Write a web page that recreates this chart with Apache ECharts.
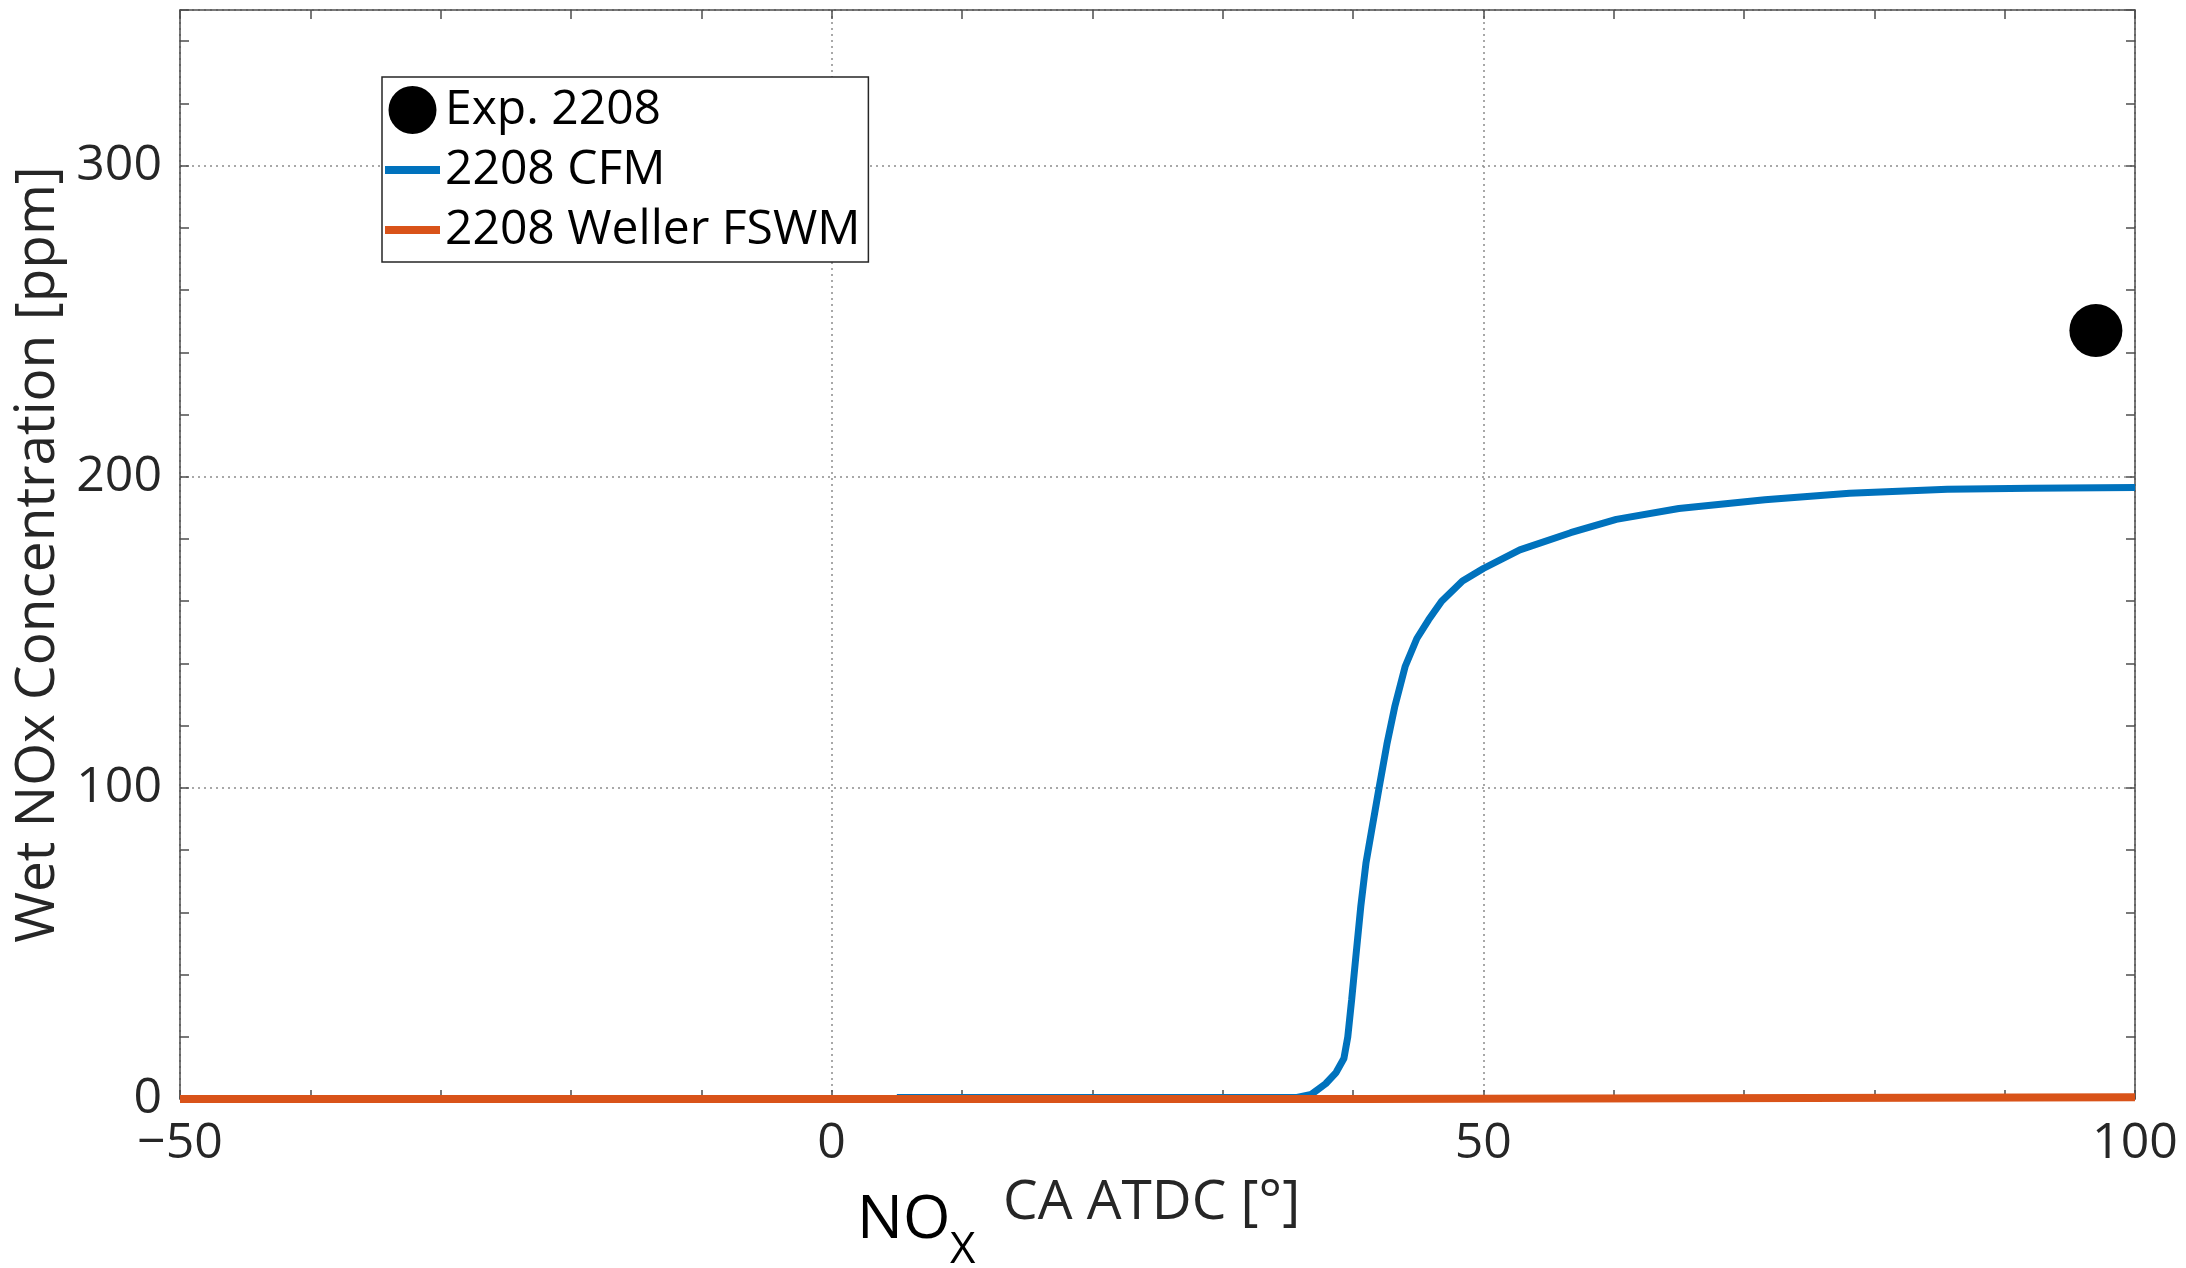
<!DOCTYPE html>
<html>
<head>
<meta charset="utf-8">
<script src="https://cdn.jsdelivr.net/npm/echarts@6/dist/echarts.min.js"></script>
<style>
html,body{margin:0;padding:0;background:#fff;}
#main{width:2186px;height:1268px;}
</style>
</head>
<body>
<div id="main"></div>
<script>
// ---- data ----
const seriesNames = ['Exp. 2208', '2208 CFM', '2208 Weller FSWM'];
const expPoints = [[97, 247]];
const cfmX = [5, 10, 15, 20, 25, 30, 35, 35.7, 36.8, 37.9, 38.7, 39.3, 39.6, 39.9, 40.2, 40.6, 41.0, 41.5, 42.0, 42.6, 43.2, 44.0, 44.9, 45.8, 46.8, 48.4, 50, 52.8, 56.7, 60.2, 65, 71.6, 78.1, 85.6, 92, 100];
const cfmY = [0.5, 0.5, 0.5, 0.5, 0.5, 0.5, 0.5, 0.5, 1.5, 4.9, 8.5, 13, 20, 32, 45, 62, 76, 88, 100, 114, 126, 139, 148, 154, 160, 166.5, 170.5, 176.5, 182, 186.3, 189.8, 192.6, 194.7, 196, 196.3, 196.5];
const wellerX = [-50, 41.2, 41.3, 100];
const wellerY = [0, 0, 0.6, 0.6];
const xTicks = [-50, 0, 50, 100];
const yTicks = [0, 100, 200, 300];

const FONT = 'Open Sans';
const TXT = '#262626';
const AX = '#4d4d4d';
const GRIDC = '#8c8c8c';

const chart = echarts.init(document.getElementById('main'), null, {renderer: 'canvas'});
const zip = (xs, ys) => xs.map((x, i) => [x, ys[i]]);

const axisCommon = {
  axisLine: {show: true, onZero: false, lineStyle: {color: AX, width: 1.5}},
  axisTick: {show: true, inside: true, length: 9, lineStyle: {color: AX, width: 1.5}},
};
const barIcon = 'path://M0,0 L55,0 L55,8 L0,8 Z';

chart.setOption({
  animation: false,
  backgroundColor: '#fff',
  grid: {left: 180, right: 51, top: 10, bottom: 169, containLabel: false},
  legend: {
    orient: 'vertical', left: 382, top: 77,
    padding: [9, 8, 8, 3],
    itemWidth: 55, itemHeight: 48, itemGap: 12,
    backgroundColor: '#fff', borderColor: '#262626', borderWidth: 1.5,
    textStyle: {fontFamily: FONT, fontSize: 48, lineHeight: 48, color: '#000'},
    data: [
      {name: seriesNames[0], icon: 'circle'},
      {name: seriesNames[1], icon: barIcon},
      {name: seriesNames[2], icon: barIcon}
    ]
  },
  xAxis: [
    Object.assign({}, axisCommon, {
      type: 'value', position: 'bottom', min: -50, max: 100, interval: 50,
      minorTick: {show: true, splitNumber: 5, length: 9, lineStyle: {color: AX, width: 1.5}},
      axisLabel: {fontFamily: FONT, fontSize: 50, color: TXT, margin: 20,
        formatter: v => xTicks.includes(v) ? String(v).replace('-', '\u2212') : ''},
      splitLine: {show: true, lineStyle: {color: GRIDC, type: [2, 4], width: 1.5}}
    }),
    Object.assign({}, axisCommon, {
      type: 'value', position: 'top', min: -50, max: 100, interval: 50,
      minorTick: {show: true, splitNumber: 5, length: 9, lineStyle: {color: AX, width: 1.5}},
      axisLabel: {show: false}, splitLine: {show: false}
    })
  ],
  yAxis: [
    Object.assign({}, axisCommon, {
      type: 'value', position: 'left', min: 0, max: 350, interval: 20,
      axisLabel: {fontFamily: FONT, fontSize: 50, color: TXT, margin: 18,
        formatter: v => yTicks.includes(v) ? String(v) : ''},
      splitLine: {show: false},
      name: 'Wet NOx Concentration [ppm]', nameLocation: 'middle', nameRotate: 90, nameGap: 106,
      nameTextStyle: {fontFamily: FONT, fontSize: 55, color: TXT}
    }),
    Object.assign({}, axisCommon, {
      type: 'value', position: 'right', min: 0, max: 350, interval: 20,
      axisLabel: {show: false}, splitLine: {show: false}
    }),
    {
      type: 'value', position: 'right', min: 0, max: 350, interval: 100,
      axisLine: {show: false}, axisTick: {show: false}, axisLabel: {show: false},
      splitLine: {show: true, lineStyle: {color: GRIDC, type: [2, 4], width: 1.5}}
    }
  ],
  series: [
    {name: seriesNames[0], type: 'scatter', xAxisIndex: 0, yAxisIndex: 0,
      symbol: 'circle', symbolSize: 53, itemStyle: {color: '#000', opacity: 1}, data: expPoints, z: 3},
    {name: seriesNames[1], type: 'line', xAxisIndex: 0, yAxisIndex: 0,
      symbol: 'none', showSymbol: false, lineStyle: {color: '#0072BD', width: 7}, itemStyle: {color: '#0072BD'},
      data: zip(cfmX, cfmY), z: 2},
    {name: seriesNames[2], type: 'line', xAxisIndex: 0, yAxisIndex: 0,
      symbol: 'none', showSymbol: false, lineStyle: {color: '#D95319', width: 8}, itemStyle: {color: '#D95319'},
      data: zip(wellerX, wellerY), z: 2}
  ],
  graphic: [
    {type: 'text', left: 857, top: 1190, style: {text: 'NO', font: '61px "Open Sans"', fill: '#000'}},
    {type: 'text', left: 950, top: 1228, style: {text: 'X', font: '44px "Open Sans"', fill: '#000'}},
    {type: 'text', left: 1003, top: 1176, style: {text: 'CA ATDC [\u00b0]', font: '55px "Open Sans"', fill: TXT}}
  ]
});
</script>
</body>
</html>
